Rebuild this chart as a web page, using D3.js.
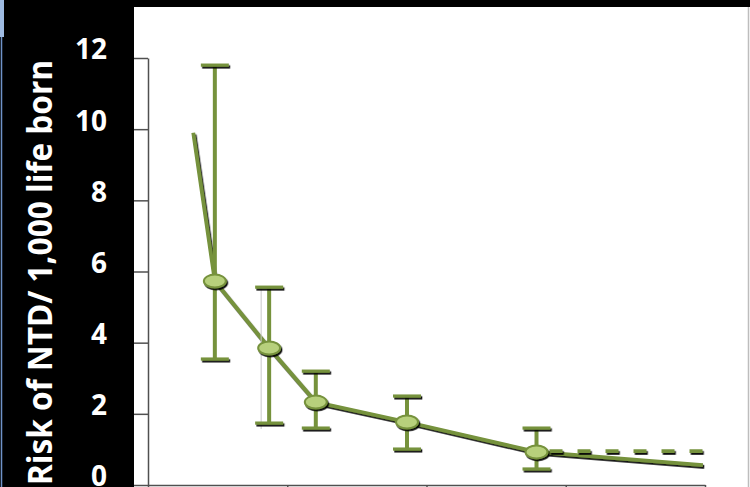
<!DOCTYPE html>
<html><head><meta charset="utf-8">
<script src="https://cdn.jsdelivr.net/npm/d3@7"></script>
<style>html,body{margin:0;padding:0;background:#000;overflow:hidden}</style>
</head><body>
<svg id="c" width="750" height="487"></svg>
<script>
// ---- data ----
const fitX = [65, 96, 174, 241, 372, 558, 797];
const fitY = [9.9, 5.73, 3.85, 2.33, 1.77, 0.93, 0.56];
const ptX = [96, 174, 241, 372, 558];
const ptY = [5.73, 3.85, 2.33, 1.77, 0.93];
const ptHi = [11.8, 5.56, 3.2, 2.5, 1.6];
const ptLo = [3.54, 1.74, 1.6, 1.01, 0.45];
const refX = [558, 797];
const refY = [0.95, 0.95];
const yTicks = [0, 2, 4, 6, 8, 10, 12];
const xTicks = [0, 200, 400, 600, 800];
const yTitle = "Risk of NTD/ 1,000 life born";

const W = 750, H = 487;
const svg = d3.select("#c");
const defs = svg.append("defs");
const f = defs.append("filter").attr("id", "sh").attr("filterUnits", "userSpaceOnUse")
  .attr("x", 0).attr("y", 0).attr("width", W).attr("height", H);
f.append("feDropShadow").attr("dx", 1.3).attr("dy", 1.8).attr("stdDeviation", 0.5)
  .attr("flood-color", "#000").attr("flood-opacity", 0.95);

// background
svg.append("rect").attr("width", W).attr("height", H).attr("fill", "#000");
svg.append("rect").attr("x", 0).attr("y", 0).attr("width", 4).attr("height", 37).attr("fill", "#9fbbe2");
svg.append("line").attr("x1", 1.5).attr("x2", 1.5).attr("y1", 37).attr("y2", H).attr("stroke", "#6f92c8").attr("stroke-width", 1.5);
svg.append("rect").attr("x", 134).attr("y", 7).attr("width", W - 134).attr("height", H - 7).attr("fill", "#fff");
svg.append("line").attr("x1", 748.5).attr("x2", 748.5).attr("y1", 7).attr("y2", H).attr("stroke", "#bdbdbd").attr("stroke-width", 1.5);

const x = d3.scaleLinear().domain([0, 800]).range([148, 705]);
const y = d3.scaleLinear().domain([0, 12]).range([485, 58]);

// axes
const gy = svg.append("g").attr("transform", "translate(148,0)")
  .call(d3.axisLeft(y).tickValues(yTicks).tickSize(14).tickSizeOuter(0).tickPadding(27));
gy.selectAll("path,line").attr("stroke", "#505050").attr("stroke-width", 1.5);
gy.selectAll("text").attr("fill", "#fff").attr("font-family", "'Open Sans', Lato, sans-serif")
  .attr("font-weight", "bold").attr("font-size", 28).attr("y", -8);

const gx = svg.append("g").attr("transform", "translate(0,485)")
  .call(d3.axisBottom(x).tickValues(xTicks).tickSize(10).tickSizeOuter(0).tickFormat(""));
gx.selectAll("path,line").attr("stroke", "#505050").attr("stroke-width", 1.5);

// y title
svg.append("text").attr("transform", "translate(52,272.5) rotate(-90)")
  .attr("text-anchor", "middle").attr("fill", "#fff")
  .attr("font-family", "'Open Sans', Lato, sans-serif").attr("font-weight", "bold")
  .attr("font-size", 34).attr("textLength", 425).attr("lengthAdjust", "spacingAndGlyphs")
  .text(yTitle);

const green = "#76923c";
// fitted line
const line = d3.line().x(d => x(d[0])).y(d => y(d[1]));
svg.append("path").datum(fitX.map((v, i) => [v, fitY[i]]))
  .attr("d", line).attr("fill", "none").attr("stroke", green).attr("stroke-width", 3.8)
  .attr("stroke-linejoin", "round").attr("filter", "url(#sh)");
// dashed reference
svg.append("path").datum(refX.map((v, i) => [v, refY[i]]))
  .attr("d", line).attr("fill", "none").attr("stroke", green).attr("stroke-width", 3.8)
  .attr("stroke-dasharray", "13,15").attr("stroke-dashoffset", -13).attr("filter", "url(#sh)");

// error bars
const pts = ptX.map((v, i) => ({ x: v, y: ptY[i], hi: ptHi[i], lo: ptLo[i], i }));
// faint ghost line on second bar
svg.append("line").datum(pts[1])
  .attr("x1", d => x(d.x) - 8).attr("x2", d => x(d.x) - 8)
  .attr("y1", d => y(d.hi)).attr("y2", d => y(d.lo) + 6)
  .attr("stroke", "#c8c8c8").attr("stroke-width", 1);
const eb = svg.append("g");
eb.selectAll("line.v").data(pts).join("line").attr("class", "v")
  .attr("x1", d => x(d.x)).attr("x2", d => x(d.x))
  .attr("y1", d => y(d.hi)).attr("y2", d => y(d.lo))
  .attr("stroke", green).attr("stroke-width", 4);
const capG = eb.append("g").attr("filter", "url(#sh)");
capG.selectAll("line.hi").data(pts).join("line")
  .attr("x1", d => x(d.x) - 14).attr("x2", d => x(d.x) + 14)
  .attr("y1", d => y(d.hi)).attr("y2", d => y(d.hi))
  .attr("stroke", green).attr("stroke-width", 3.2);
capG.selectAll("line.lo").data(pts).join("line")
  .attr("x1", d => x(d.x) - 14).attr("x2", d => x(d.x) + 14)
  .attr("y1", d => y(d.lo)).attr("y2", d => y(d.lo))
  .attr("stroke", green).attr("stroke-width", 3.2);

// markers
svg.append("g").attr("filter", "url(#sh)").selectAll("ellipse").data(pts).join("ellipse")
  .attr("cx", d => x(d.x)).attr("cy", d => y(d.y)).attr("rx", 11).attr("ry", 6.5)
  .attr("fill", "#b7d07c").attr("stroke", green).attr("stroke-width", 2);
</script>
</body></html>
